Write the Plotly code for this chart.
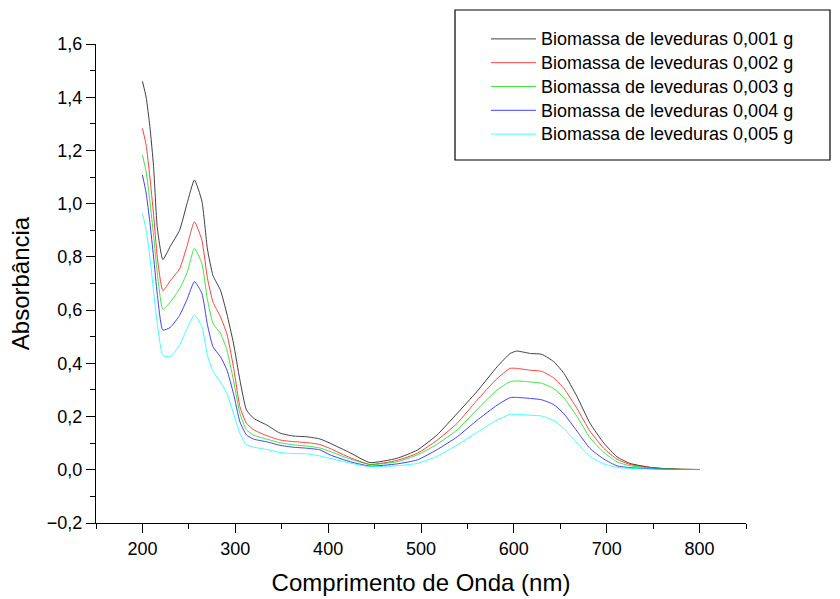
import plotly.graph_objects as go

# Wavelength grid (nm)
wavelength = [200, 204, 208, 212, 216, 222, 230, 240, 248, 256, 264, 270, 276, 284, 291,
              298, 305, 312, 320, 334, 348, 362, 377, 391, 402, 424, 445, 474, 496, 517,
              539, 560, 582, 596, 603, 618, 630, 643, 654, 668, 682, 697, 711, 725, 747,
              761, 780, 800]

abs_0001 = [1.46, 1.40, 1.29, 1.14, 0.91, 0.79, 0.84, 0.90, 1.00, 1.089, 1.01, 0.83, 0.73,
            0.675, 0.585, 0.476, 0.337, 0.225, 0.193, 0.168, 0.138, 0.127, 0.124, 0.116,
            0.100, 0.063, 0.027, 0.043, 0.074, 0.130, 0.212, 0.293, 0.387, 0.437, 0.446,
            0.437, 0.434, 0.406, 0.362, 0.275, 0.175, 0.100, 0.049, 0.024, 0.009, 0.005,
            0.002, 0.001]

abs_0002 = [1.283, 1.22, 1.10, 0.96, 0.80, 0.673, 0.71, 0.755, 0.84, 0.932, 0.863, 0.72,
            0.63, 0.575, 0.51, 0.387, 0.237, 0.175, 0.150, 0.128, 0.112, 0.106, 0.102,
            0.095, 0.080, 0.045, 0.020, 0.035, 0.062, 0.110, 0.175, 0.260, 0.343, 0.381,
            0.381, 0.374, 0.370, 0.345, 0.305, 0.230, 0.145, 0.080, 0.040, 0.020, 0.009,
            0.004, 0.002, 0.001]

abs_0003 = [1.183, 1.12, 1.01, 0.88, 0.74, 0.603, 0.63, 0.68, 0.74, 0.832, 0.776, 0.64,
            0.55, 0.513, 0.45, 0.337, 0.212, 0.150, 0.130, 0.115, 0.102, 0.094, 0.089,
            0.082, 0.069, 0.040, 0.020, 0.030, 0.056, 0.095, 0.150, 0.225, 0.300, 0.331,
            0.334, 0.330, 0.325, 0.305, 0.270, 0.200, 0.120, 0.065, 0.030, 0.015, 0.007,
            0.004, 0.002, 0.001]

abs_0004 = [1.108, 1.04, 0.93, 0.80, 0.66, 0.525, 0.535, 0.58, 0.64, 0.707, 0.663, 0.545,
            0.462, 0.425, 0.375, 0.287, 0.180, 0.131, 0.115, 0.105, 0.092, 0.085, 0.081,
            0.075, 0.056, 0.030, 0.014, 0.022, 0.037, 0.075, 0.124, 0.185, 0.243, 0.271,
            0.272, 0.268, 0.263, 0.245, 0.210, 0.145, 0.080, 0.040, 0.015, 0.008, 0.004,
            0.002, 0.001, 0.001]

abs_0005 = [0.964, 0.90, 0.80, 0.67, 0.55, 0.43, 0.425, 0.47, 0.53, 0.582, 0.538, 0.43,
            0.37, 0.33, 0.287, 0.212, 0.137, 0.094, 0.085, 0.076, 0.065, 0.061, 0.060,
            0.052, 0.043, 0.025, 0.012, 0.015, 0.024, 0.050, 0.093, 0.140, 0.187, 0.208,
            0.208, 0.205, 0.202, 0.185, 0.155, 0.100, 0.050, 0.022, 0.009, 0.005, 0.003,
            0.002, 0.001, 0.001]

series_names = ["Biomassa de leveduras 0,001 g", "Biomassa de leveduras 0,002 g",
                "Biomassa de leveduras 0,003 g", "Biomassa de leveduras 0,004 g",
                "Biomassa de leveduras 0,005 g"]
series_values = [abs_0001, abs_0002, abs_0003, abs_0004, abs_0005]
series_colors = ["#000000", "#ff0000", "#00dd00", "#0000ff", "#00ffff"]

FONT = "Liberation Sans, Arial, sans-serif"

fig = go.Figure()
for name, vals, col in zip(series_names, series_values, series_colors):
    fig.add_trace(go.Scatter(
        x=wavelength, y=vals, mode="lines",
        # slightly larger glyphs than the legend's base size keep the rows compact
        name=f'<span style="font-size:18px">{name}</span>',
        line=dict(color=col, width=1, shape="spline", smoothing=0.5),
        opacity=0.75,
    ))

# legend frame
fig.add_shape(type="rect", xref="paper", yref="paper",
              x0=(455 - 96) / 650, x1=(830 - 96) / 650,
              y0=(523 - 160) / 479, y1=(523 - 10) / 479,
              line=dict(color="black", width=1.2), fillcolor="rgba(0,0,0,0)", layer="above")

fig.update_layout(
    width=840, height=599,
    margin=dict(l=96, r=94, t=44, b=76),
    paper_bgcolor="white", plot_bgcolor="white",
    separators=",.",
    font=dict(family=FONT, size=18, color="black"),
    showlegend=True,
    legend=dict(x=(486 - 96) / 650, y=(523 - 22) / 479, xanchor="left", yanchor="top",
                bgcolor="rgba(0,0,0,0)", borderwidth=0, itemwidth=45,
                font=dict(family=FONT, size=16, color="black")),
    xaxis=dict(range=[150, 850], tick0=0, dtick=100, ticks="outside", ticklen=9,
               tickwidth=1.3, tickcolor="black", showline=True, linecolor="black",
               linewidth=1.3, showgrid=False, zeroline=False,
               tickfont=dict(size=18),
               minor=dict(dtick=50, tick0=0, ticks="outside", ticklen=5,
                          tickwidth=1.3, tickcolor="black"),
               title=dict(text="Comprimento de Onda (nm)", font=dict(size=24), standoff=16),
               automargin=False),
    yaxis=dict(range=[-0.2, 1.6], tick0=0, dtick=0.2, tickformat=".1f", ticks="outside",
               ticklen=9, tickwidth=1.3, tickcolor="black", showline=True,
               linecolor="black", linewidth=1.3, showgrid=False, zeroline=False,
               tickfont=dict(size=18),
               minor=dict(dtick=0.1, ticks="outside", ticklen=5, tickwidth=1.3,
                          tickcolor="black"),
               title=dict(text="Absorbância", font=dict(size=24), standoff=10),
               automargin=False),
)

fig.write_html("out.html")
